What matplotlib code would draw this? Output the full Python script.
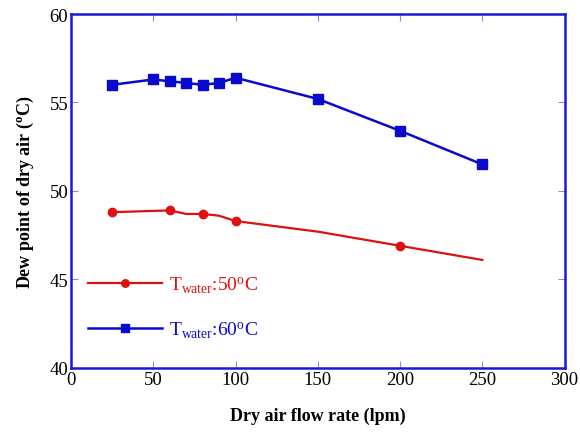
import matplotlib
matplotlib.use("Agg")
import matplotlib.pyplot as plt

plt.rcParams['font.family'] = ['Liberation Serif', 'DejaVu Serif']
plt.rcParams['mathtext.fontset'] = 'custom'
plt.rcParams['mathtext.rm'] = 'Liberation Serif'
plt.rcParams['mathtext.it'] = 'Liberation Serif'
plt.rcParams['mathtext.bf'] = 'Liberation Serif:bold'

# Données
debit_50 = [25, 60, 70, 80, 90, 100, 150, 200, 250]
rosee_50 = [48.8, 48.9, 48.7, 48.7, 48.6, 48.3, 47.7, 46.9, 46.1]
marques_50 = [0, 1, 3, 5, 7]

debit_60 = [25, 50, 60, 70, 80, 90, 100, 150, 200, 250]
rosee_60 = [56.0, 56.3, 56.2, 56.1, 56.0, 56.1, 56.4, 55.2, 53.4, 51.5]

x_ticks = [0, 50, 100, 150, 200, 250, 300]
y_ticks = [40, 45, 50, 55, 60]

rouge = '#dd1111'
bleu = '#0a0acc'

fig = plt.figure(figsize=(5.8, 4.35), dpi=100)
ax = fig.add_axes([0.1224, 0.152, 0.851, 0.8135])

ax.plot(debit_50, rosee_50, color=rouge, lw=1.6, marker='o', ms=6,
        markevery=marques_50, label=r'T$_{\mathrm{water}}$:50$^{\mathrm{o}}$C')
ax.plot(debit_60, rosee_60, color=bleu, lw=1.8, marker='s', ms=6.5,
        label=r'T$_{\mathrm{water}}$:60$^{\mathrm{o}}$C')

ax.set_xlim(0, 300)
ax.set_ylim(40, 60)
ax.set_xticks(x_ticks)
ax.set_yticks(y_ticks)

for s in ax.spines.values():
    s.set_color('#1a1ad6')
    s.set_linewidth(1.8)
ax.tick_params(direction='in', top=True, right=True, length=5, width=0.8,
               color='#8c8cd8', labelsize=13.5, pad=2)

ax.set_xlabel('Dry air flow rate (lpm)', fontsize=13, fontweight='bold', labelpad=14)
ax.set_ylabel(r'Dew point of dry air ($^{\mathbf{o}}$C)', fontsize=13, fontweight='bold', labelpad=10)

ax.legend(loc='lower left', bbox_to_anchor=(0.0, 0.03), frameon=False, fontsize=14,
          handlelength=3.8, labelspacing=1.25, handletextpad=0.35,
          labelcolor='linecolor', markerscale=0.9)

fig.savefig('out.png', dpi=100)
